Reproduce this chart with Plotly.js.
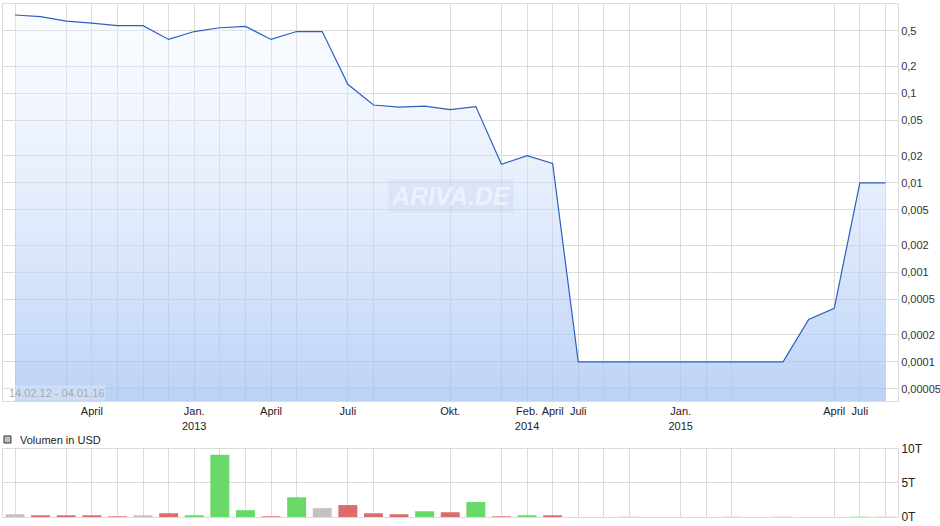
<!DOCTYPE html>
<html>
<head>
<meta charset="utf-8">
<script src="https://cdn.plot.ly/plotly-3.0.1.min.js"></script>
<style>
    html, body { margin: 0; padding: 0; background: #fff; }
    #chart { width: 940px; height: 526px; }
</style>
</head>
<body>
<div id="chart"></div>
<script>
// Kurs (USD), ein Punkt je Periode, 14.02.12 - 04.01.16
var price = [
    0.75, 0.72, 0.64, 0.61, 0.57, 0.57, 0.40, 0.49, 0.54, 0.56,
    0.40, 0.49, 0.49, 0.126, 0.074, 0.070, 0.072, 0.0656, 0.071, 0.0161,
    0.0201, 0.0165, 0.0001, 0.0001, 0.0001, 0.0001, 0.0001, 0.0001, 0.0001, 0.0001,
    0.0001, 0.000298, 0.000396, 0.01, 0.01
]

// Volumen in T (USD), Richtung: 1 = hoch, -1 = runter, 0 = neutral
var volume = [
    0.4, 0.25, 0.25, 0.25, 0.1, 0.25, 0.55, 0.25, 9.15, 1.0,
    0.1, 2.9, 1.3, 1.75, 0.55, 0.4, 0.85, 0.7, 2.2, 0.1,
    0.25, 0.25, 0, 0, 0.05, 0, 0, 0, 0.05, 0,
    0.05, 0, 0, 0.05, 0.05
]
var volumeDir = [
    0, -1, -1, -1, -1, 0, -1, 1, 1, 1,
    -1, 1, 0, -1, -1, -1, 1, -1, 1, -1,
    1, -1, 0, 0, 0, 0, 0, 0, 0, 0,
    0, 0, 0, 1, 0
]

// Gitterlinien und Monatsbeschriftung (Index der Periode)
var xGridPos = [0, 2, 3, 4, 5, 6, 7, 8, 9, 10, 11, 13, 14, 17, 19, 20, 21, 22, 23, 24, 26, 27, 28, 32, 33, 34]
var xLabelPos = [3, 7, 10, 13, 17, 20, 21, 22, 26, 32, 33]
var xLabelText = ['April', 'Jan.<br>2013', 'April', 'Juli', 'Okt.', 'Feb.<br>2014', 'April', 'Juli', 'Jan.<br>2015', 'April', 'Juli']

var yTickVals = [0.5, 0.2, 0.1, 0.05, 0.02, 0.01, 0.005, 0.002, 0.001, 0.0005, 0.0002, 0.0001, 0.00005]
var yTickText = ['0,5', '0,2', '0,1', '0,05', '0,02', '0,01', '0,005', '0,002', '0,001', '0,0005', '0,0002', '0,0001', '0,00005']

var volTickVals = [0, 5, 10]
var volTickText = ['0T', '5T', '10T']

var dirColor = { '1': '#6ad96a', '-1': '#dc6b6b', '0': '#c2c2c2' }
var gridColor = '#dcdcdc'
var font = { family: '"Liberation Sans", Arial, sans-serif', size: 11, color: '#222' }

var idx = price.map((v, i) => i)
var xTickText = xGridPos.map(p => {
    var k = xLabelPos.indexOf(p)
    return k >= 0 ? xLabelText[k] : ''
})

var traces = [
    {
        x: idx,
        y: price,
        type: 'scatter',
        mode: 'lines',
        line: { color: '#2c60c0', width: 1.2 },
        fill: 'tozeroy',
        fillgradient: {
            type: 'vertical',
            start: 0.00003,
            stop: 0.75,
            colorscale: [[0, 'rgba(158,190,242,0.72)'], [1, 'rgba(238,244,255,0.3)']]
        },
        hoverinfo: 'skip',
        xaxis: 'x',
        yaxis: 'y'
    },
    {
        x: idx,
        y: volume,
        type: 'bar',
        width: 0.74,
        marker: { color: volumeDir.map(d => dirColor[String(d)]) },
        hoverinfo: 'skip',
        xaxis: 'x2',
        yaxis: 'y2'
    }
]

var xRange = [-0.47, 34.49]

var layout = {
    width: 940,
    height: 526,
    margin: { l: 3, r: 42, t: 4, b: 9 },
    paper_bgcolor: '#fff',
    plot_bgcolor: '#fff',
    font: font,
    showlegend: false,
    xaxis: {
        range: xRange,
        domain: [0, 1],
        anchor: 'y',
        tickmode: 'array',
        tickvals: xGridPos,
        ticktext: xTickText,
        showgrid: true,
        gridcolor: gridColor,
        gridwidth: 1,
        ticks: '',
        showline: true,
        linecolor: gridColor,
        mirror: true,
        zeroline: false,
        tickfont: font,
        fixedrange: true
    },
    yaxis: {
        type: 'log',
        range: [-4.438, -0.002],
        domain: [0.2261, 1],
        side: 'right',
        tickmode: 'array',
        tickvals: yTickVals,
        ticktext: yTickText,
        showgrid: true,
        gridcolor: gridColor,
        ticks: '',
        showline: true,
        linecolor: gridColor,
        mirror: true,
        zeroline: false,
        tickfont: { family: font.family, size: 11, color: '#333' },
        fixedrange: true
    },
    xaxis2: {
        range: xRange,
        domain: [0, 1],
        anchor: 'y2',
        tickmode: 'array',
        tickvals: xGridPos,
        showticklabels: false,
        showgrid: true,
        gridcolor: gridColor,
        ticks: '',
        showline: true,
        linecolor: gridColor,
        mirror: true,
        zeroline: false,
        fixedrange: true
    },
    yaxis2: {
        range: [0, 10],
        domain: [0, 0.1326],
        anchor: 'x2',
        side: 'right',
        tickmode: 'array',
        tickvals: volTickVals,
        ticktext: volTickText,
        showgrid: true,
        gridcolor: gridColor,
        ticks: '',
        showline: true,
        linecolor: gridColor,
        mirror: true,
        zeroline: false,
        tickfont: { family: font.family, size: 12, color: '#222' },
        fixedrange: true
    },
    shapes: [
        {
            type: 'rect', xref: 'paper', yref: 'paper',
            x0: 0.0011, x1: 0.0089, y0: 0.1442, y1: 0.158,
            fillcolor: '#c0c0c0', line: { color: '#333', width: 1 }
        }
    ],
    annotations: [
        {
            text: 'Volumen in USD',
            xref: 'paper', yref: 'paper',
            x: 0.0168, y: 0.151,
            xanchor: 'left', yanchor: 'middle',
            showarrow: false,
            font: { family: font.family, size: 11, color: '#222' }
        },
        {
            text: '14.02.12 - 04.01.16',
            xref: 'x domain', yref: 'y domain',
            x: 0.005, y: 0.0,
            xanchor: 'left', yanchor: 'bottom',
            showarrow: false,
            bgcolor: 'rgba(255,255,255,0.25)',
            font: { family: font.family, size: 11, color: '#a9a9a9' }
        },
        {
            text: '<b><i>ARIVA.DE</i></b>',
            xref: 'paper', yref: 'paper',
            x: 0.5007, y: 0.6255,
            xanchor: 'center', yanchor: 'middle',
            showarrow: false,
            bgcolor: 'rgba(195,210,235,0.3)',
            borderpad: 2,
            font: { family: font.family, size: 25, color: 'rgba(255,255,255,0.5)' }
        }
    ]
}

Plotly.newPlot('chart', traces, layout, {
    displayModeBar: false,
    staticPlot: true,
    responsive: false
})
</script>
</body>
</html>
